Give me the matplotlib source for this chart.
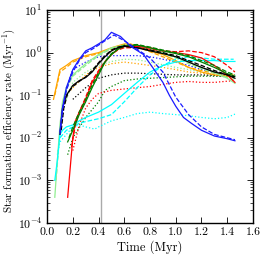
import matplotlib
matplotlib.use("Agg")
import matplotlib.pyplot as plt
from matplotlib.ticker import LogLocator, NullFormatter, MultipleLocator

plt.rcParams['font.family'] = 'serif'
plt.rcParams['font.serif'] = ['cmr10', 'DejaVu Serif']
plt.rcParams['mathtext.fontset'] = 'cm'
plt.rcParams['axes.formatter.use_mathtext'] = True

# ---------------- data (time in Myr, SFE rate in Myr^-1) ----------------
t_blue_solid = [0.10, 0.12, 0.15, 0.20, 0.25, 0.30, 0.35, 0.40, 0.45, 0.50, 0.57, 0.65, 0.75, 0.82, 0.90, 0.95, 1.00, 1.06, 1.12, 1.20, 1.30, 1.40, 1.46]
v_blue_solid = [0.014, 0.05, 0.15, 0.40, 0.70, 1.10, 1.30, 1.60, 2.00, 3.00, 2.40, 1.40, 0.90, 0.45, 0.20, 0.10, 0.055, 0.030, 0.022, 0.015, 0.011, 0.0095, 0.0085]
t_blue_dashed = [0.10, 0.12, 0.15, 0.20, 0.25, 0.30, 0.35, 0.40, 0.45, 0.52, 0.60, 0.70, 0.80, 0.90, 1.00, 1.10, 1.20, 1.30, 1.40, 1.46]
v_blue_dashed = [0.012, 0.045, 0.13, 0.35, 0.65, 1.00, 1.20, 1.50, 1.90, 2.60, 1.90, 1.20, 0.75, 0.35, 0.09, 0.035, 0.018, 0.012, 0.010, 0.009]
t_blue_dotted = [0.12, 0.15, 0.20, 0.30, 0.40, 0.50, 0.60, 0.70, 0.80, 0.90, 1.00, 1.10, 1.20, 1.30, 1.45]
v_blue_dotted = [0.03, 0.15, 0.40, 0.60, 0.80, 0.85, 0.85, 0.85, 0.80, 0.70, 0.60, 0.50, 0.40, 0.35, 0.30]

t_orange_solid = [0.05, 0.10, 0.15, 0.20, 0.30, 0.40, 0.50, 0.60, 0.65, 0.70, 0.80, 0.90, 1.00, 1.10, 1.20, 1.30, 1.40, 1.45]
v_orange_solid = [0.08, 0.40, 0.50, 0.65, 0.85, 1.00, 1.30, 1.60, 1.60, 1.40, 1.10, 0.90, 0.65, 0.45, 0.35, 0.30, 0.28, 0.27]
t_orange_dashed = [0.06, 0.10, 0.15, 0.20, 0.30, 0.40, 0.50, 0.60, 0.70, 0.80, 0.90, 1.00, 1.10, 1.20, 1.30, 1.40, 1.45]
v_orange_dashed = [0.10, 0.35, 0.45, 0.60, 0.80, 0.95, 1.20, 1.50, 1.35, 1.05, 0.80, 0.60, 0.45, 0.38, 0.33, 0.30, 0.30]
t_orange_dotted = [0.15, 0.20, 0.30, 0.40, 0.50, 0.60, 0.70, 0.80, 0.90, 1.00, 1.10, 1.20, 1.30, 1.45]
v_orange_dotted = [0.10, 0.15, 0.30, 0.45, 0.55, 0.60, 0.55, 0.50, 0.45, 0.40, 0.35, 0.33, 0.30, 0.28]

t_lgreen_solid = [0.06, 0.08, 0.10, 0.12, 0.15, 0.20, 0.30, 0.40, 0.50, 0.60, 0.70, 0.80, 0.90, 1.00, 1.10, 1.20, 1.30, 1.40, 1.46]
v_lgreen_solid = [0.0004, 0.003, 0.02, 0.07, 0.15, 0.30, 0.55, 0.90, 1.30, 1.50, 1.40, 1.20, 1.00, 0.80, 0.60, 0.45, 0.35, 0.25, 0.19]
t_lgreen_dashed = [0.07, 0.09, 0.11, 0.13, 0.16, 0.20, 0.30, 0.40, 0.50, 0.60, 0.70, 0.80, 0.90, 1.00, 1.10, 1.20, 1.30, 1.40, 1.46]
v_lgreen_dashed = [0.001, 0.006, 0.03, 0.08, 0.16, 0.28, 0.50, 0.85, 1.25, 1.45, 1.35, 1.15, 0.95, 0.75, 0.55, 0.42, 0.33, 0.26, 0.22]
t_lgreen_dotted = [0.15, 0.20, 0.30, 0.40, 0.50, 0.60, 0.70, 0.80, 0.90, 1.00, 1.10, 1.20, 1.30, 1.45]
v_lgreen_dotted = [0.08, 0.20, 0.35, 0.50, 0.62, 0.70, 0.68, 0.60, 0.52, 0.45, 0.40, 0.35, 0.30, 0.25]

t_black_solid = [0.10, 0.12, 0.15, 0.20, 0.25, 0.30, 0.35, 0.40, 0.45, 0.50, 0.55, 0.60, 0.70, 0.80, 0.90, 1.00, 1.10, 1.20, 1.30, 1.40, 1.46]
v_black_solid = [0.012, 0.05, 0.10, 0.17, 0.22, 0.26, 0.35, 0.55, 0.80, 1.10, 1.30, 1.40, 1.30, 1.10, 0.95, 0.80, 0.60, 0.45, 0.35, 0.30, 0.25]
t_black_dashed = [0.11, 0.13, 0.16, 0.20, 0.25, 0.30, 0.35, 0.40, 0.45, 0.50, 0.55, 0.60, 0.70, 0.80, 0.90, 1.00, 1.10, 1.20, 1.30, 1.40, 1.46]
v_black_dashed = [0.015, 0.05, 0.11, 0.16, 0.21, 0.27, 0.38, 0.58, 0.85, 1.15, 1.35, 1.45, 1.30, 1.15, 1.00, 0.85, 0.65, 0.50, 0.38, 0.30, 0.27]
t_black_dotted = [0.20, 0.30, 0.40, 0.50, 0.60, 0.70, 0.80, 0.90, 1.00, 1.10, 1.20, 1.30, 1.45]
v_black_dotted = [0.08, 0.15, 0.25, 0.30, 0.33, 0.33, 0.32, 0.31, 0.30, 0.30, 0.30, 0.29, 0.28]

t_green_solid = [0.16, 0.20, 0.25, 0.30, 0.35, 0.40, 0.45, 0.50, 0.55, 0.60, 0.70, 0.80, 0.90, 1.00, 1.10, 1.20, 1.30, 1.40, 1.46]
v_green_solid = [0.008, 0.015, 0.035, 0.07, 0.15, 0.30, 0.60, 0.90, 1.20, 1.40, 1.50, 1.30, 1.10, 0.95, 0.80, 0.60, 0.45, 0.32, 0.28]
t_green_dashed = [0.17, 0.20, 0.25, 0.30, 0.35, 0.40, 0.45, 0.50, 0.55, 0.60, 0.70, 0.80, 0.90, 1.00, 1.10, 1.20, 1.30, 1.40, 1.46]
v_green_dashed = [0.010, 0.018, 0.04, 0.08, 0.17, 0.33, 0.62, 0.95, 1.25, 1.50, 1.55, 1.35, 1.15, 1.00, 0.85, 0.65, 0.50, 0.35, 0.30]
t_green_dotted = [0.16, 0.20, 0.30, 0.40, 0.45, 0.50, 0.57, 0.60, 0.70, 0.80, 0.90, 1.00, 1.10, 1.20, 1.30, 1.45]
v_green_dotted = [0.004, 0.010, 0.03, 0.07, 0.13, 0.16, 0.20, 0.22, 0.24, 0.25, 0.26, 0.27, 0.28, 0.28, 0.28, 0.27]

t_red_solid = [0.16, 0.18, 0.20, 0.22, 0.25, 0.30, 0.35, 0.40, 0.45, 0.50, 0.55, 0.60, 0.70, 0.80, 0.90, 1.00, 1.10, 1.20, 1.30, 1.40, 1.46]
v_red_solid = [0.0004, 0.002, 0.010, 0.025, 0.04, 0.08, 0.20, 0.35, 0.60, 0.90, 1.20, 1.40, 1.40, 1.30, 1.10, 1.00, 0.90, 0.75, 0.50, 0.30, 0.20]
t_red_dashed = [0.19, 0.22, 0.25, 0.30, 0.35, 0.40, 0.45, 0.50, 0.55, 0.60, 0.70, 0.80, 0.90, 1.00, 1.10, 1.20, 1.30, 1.40, 1.46]
v_red_dashed = [0.006, 0.02, 0.04, 0.09, 0.22, 0.38, 0.62, 0.92, 1.15, 1.30, 1.30, 1.20, 1.10, 1.05, 1.10, 1.00, 0.80, 0.50, 0.35]
t_red_dotted = [0.20, 0.25, 0.30, 0.35, 0.40, 0.50, 0.60, 0.70, 0.80, 0.90, 1.00, 1.10, 1.20, 1.30, 1.45]
v_red_dotted = [0.005, 0.02, 0.05, 0.08, 0.11, 0.13, 0.14, 0.15, 0.16, 0.18, 0.20, 0.21, 0.20, 0.20, 0.22]

t_cyan_solid = [0.06, 0.08, 0.10, 0.12, 0.15, 0.20, 0.25, 0.30, 0.40, 0.50, 0.60, 0.70, 0.80, 0.90, 1.00, 1.10, 1.20, 1.30, 1.40, 1.46]
v_cyan_solid = [0.001, 0.003, 0.012, 0.015, 0.018, 0.020, 0.025, 0.030, 0.040, 0.060, 0.11, 0.20, 0.35, 0.50, 0.60, 0.65, 0.65, 0.65, 0.62, 0.62]
t_cyan_dashed = [0.10, 0.15, 0.20, 0.25, 0.30, 0.40, 0.50, 0.60, 0.70, 0.80, 0.90, 1.00, 1.10, 1.20, 1.30, 1.45]
v_cyan_dashed = [0.010, 0.015, 0.018, 0.022, 0.024, 0.028, 0.035, 0.07, 0.15, 0.30, 0.50, 0.70, 0.80, 0.75, 0.70, 0.70]
t_cyan_dotted = [0.08, 0.10, 0.15, 0.20, 0.25, 0.30, 0.37, 0.40, 0.50, 0.60, 0.70, 0.80, 0.90, 1.00, 1.10, 1.20, 1.30, 1.40, 1.46]
v_cyan_dotted = [0.004, 0.008, 0.012, 0.018, 0.020, 0.018, 0.016, 0.018, 0.025, 0.030, 0.037, 0.040, 0.037, 0.035, 0.033, 0.030, 0.028, 0.030, 0.036]

t_marker = 0.42

# ---------------- plot ----------------
fig = plt.figure(figsize=(2.66, 2.58), dpi=100)
ax = fig.add_axes([0.177, 0.136, 0.774, 0.825])

colors = {'blue': '#1a1aff', 'orange': '#ffa500', 'lgreen': '#90ee90',
          'black': '#000000', 'green': '#008000', 'red': '#ff0000', 'cyan': '#00ffff'}

series = [
    (t_orange_dotted, v_orange_dotted, 'orange', ':'),
    (t_lgreen_dotted, v_lgreen_dotted, 'lgreen', ':'),
    (t_black_dotted, v_black_dotted, 'black', ':'),
    (t_green_dotted, v_green_dotted, 'green', ':'),
    (t_red_dotted, v_red_dotted, 'red', ':'),
    (t_cyan_dotted, v_cyan_dotted, 'cyan', ':'),
    (t_blue_dotted, v_blue_dotted, 'blue', ':'),
    (t_orange_solid, v_orange_solid, 'orange', '-'),
    (t_orange_dashed, v_orange_dashed, 'orange', '--'),
    (t_lgreen_solid, v_lgreen_solid, 'lgreen', '-'),
    (t_lgreen_dashed, v_lgreen_dashed, 'lgreen', '--'),
    (t_cyan_solid, v_cyan_solid, 'cyan', '-'),
    (t_cyan_dashed, v_cyan_dashed, 'cyan', '--'),
    (t_red_solid, v_red_solid, 'red', '-'),
    (t_red_dashed, v_red_dashed, 'red', '--'),
    (t_green_solid, v_green_solid, 'green', '-'),
    (t_green_dashed, v_green_dashed, 'green', '--'),
    (t_black_solid, v_black_solid, 'black', '-'),
    (t_black_dashed, v_black_dashed, 'black', '--'),
    (t_blue_solid, v_blue_solid, 'blue', '-'),
    (t_blue_dashed, v_blue_dashed, 'blue', '--'),
]
for t, v, c, ls in series:
    ax.plot(t, v, color=colors[c], ls=ls, lw=0.9)

ax.axvline(t_marker, color='#aaaaaa', lw=1.0, zorder=0)

ax.set_yscale('log')
ax.set_xlim(0, 1.6)
ax.set_ylim(1e-4, 1e1)
ax.xaxis.set_major_locator(MultipleLocator(0.2))
ax.xaxis.set_major_formatter(matplotlib.ticker.FormatStrFormatter('%.1f'))
ax.yaxis.set_major_locator(LogLocator(base=10, numticks=10))
ax.yaxis.set_minor_locator(LogLocator(base=10, subs=range(2, 10), numticks=20))
ax.yaxis.set_minor_formatter(NullFormatter())
ax.tick_params(which='both', direction='in', top=True, right=True, labelsize=8.5)
ax.tick_params(which='major', length=4, width=0.6)
ax.tick_params(which='minor', length=2, width=0.5)
for s in ax.spines.values():
    s.set_linewidth(1.0)

ax.set_xlabel('Time (Myr)', fontsize=9, labelpad=2)
ax.set_ylabel('Star formation efficiency rate (Myr$^{-1}$)', fontsize=7.9)
ax.yaxis.set_label_coords(-0.148, 0.48)

fig.savefig('out.png', dpi=100)
